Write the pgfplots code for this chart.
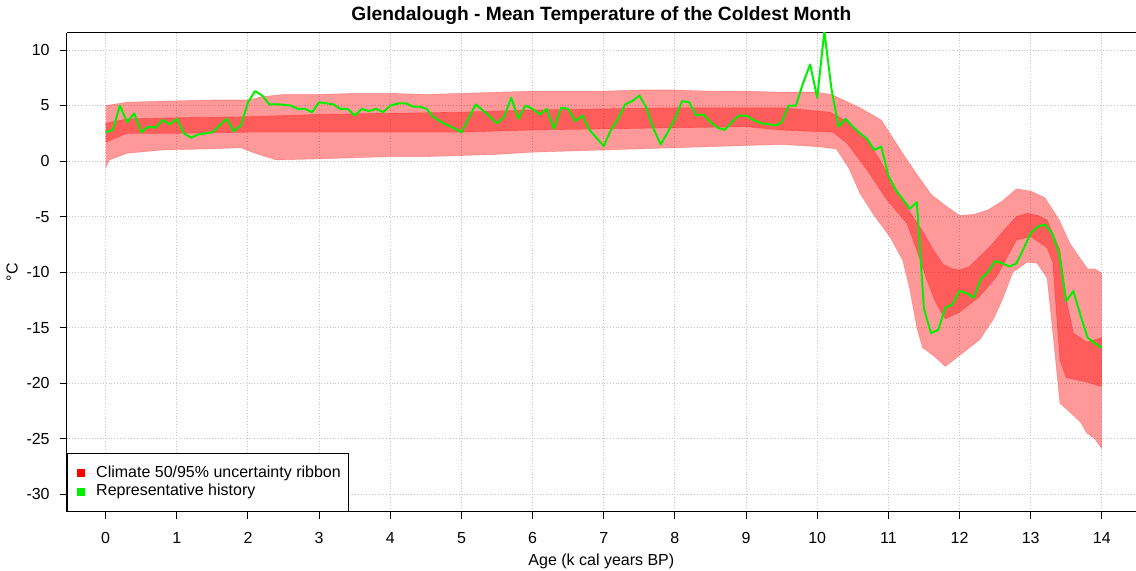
\documentclass[border=0pt]{standalone}
\usepackage{fontspec}
\setmainfont{Liberation Sans}
\usepackage{pgfplots}
\pgfplotsset{compat=1.18}
\usepgfplotslibrary{fillbetween}
\definecolor{histgreen}{RGB}{0,240,0}
\newcommand{\lab}{\fontsize{8}{9.6}\selectfont}
\begin{document}
\begin{tikzpicture}
\begin{axis}[
 name=ax, scale only axis, width=534.65pt, height=239.5pt,
 xmin=-0.548, xmax=14.48, ymin=-31.57, ymax=11.56,
 axis x line=box, axis y line*=left,
 axis line style={black, line width=0.5pt, -},
 xtick={0,1,2,3,4,5,6,7,8,9,10,11,12,13,14},
 xticklabels={0,1,2,3,4,5,6,7,8,9,10,11,12,13,14},
 ytick={-30,-25,-20,-15,-10,-5,0,5,10},
 yticklabels={-30,-25,-20,-15,-10,-5,0,5,10},
 tick align=outside, major tick length=3.5pt,
 tick style={black, line width=0.5pt},
 xtick pos=bottom, ytick pos=left,
 grid=major, grid style={densely dotted, black!22, line width=0.5pt},
 ticklabel style={font=\lab},
 xticklabel shift=3.3pt, yticklabel shift=1.5pt,
 title={Glendalough - Mean Temperature of the Coldest Month},
 title style={font=\fontsize{9.6}{11.5}\selectfont\bfseries, at={(axis description cs:0.5,1)}, anchor=base, yshift=0pt},
 xlabel={Age (k cal years BP)},
 xlabel style={font=\lab, at={(axis description cs:0.5,0)}, anchor=base, yshift=-26.8pt},
 ylabel={°C},
 ylabel style={font=\lab, at={(axis description cs:-0.046,0.5)}, anchor=base},
 legend style={at={(axis description cs:0,0)}, anchor=south west, draw=black, line width=0.5pt, fill=white,
   font=\lab, inner xsep=3pt, inner ysep=5pt, row sep=0pt,
   nodes={inner sep=1pt, text height=5.6pt, text depth=1.7pt}},
 legend cell align=left,
 legend image code/.code={\path (0pt,0pt) -- (10.5pt,0pt); \fill[#1] (2pt,-2pt) rectangle (6pt,2pt);},
]
% outer 95% band
\addplot[name path=ou, draw=red, draw opacity=0.25, line width=0.3pt, forget plot] coordinates {
(0,5.0)(0.3,5.3)(0.8,5.4)(1.5,5.5)(2.0,5.5)(2.2,5.8)(2.5,6.0)(3,6.0)(3.5,6.1)(4,6.1)(4.5,6.0)(5,6.1)(5.5,6.2)(6,6.3)(6.5,6.3)(7,6.3)(7.5,6.4)(8,6.4)(8.5,6.3)(9,6.3)(9.5,6.2)(10.0,6.2)(10.2,6.0)(10.4,5.4)(10.6,4.8)(10.9,3.7)(11.2,0.7)(11.4,-1.2)(11.6,-3.0)(11.8,-4.0)(12.0,-4.9)(12.2,-4.8)(12.4,-4.4)(12.6,-3.6)(12.8,-2.5)(13.0,-2.7)(13.2,-3.3)(13.4,-5.3)(13.55,-7.4)(13.7,-8.8)(13.8,-9.7)(13.9,-9.7)(14,-10.1)
};
\addplot[name path=ol, draw=red, draw opacity=0.25, line width=0.3pt, forget plot] coordinates {
(0,-0.6)(0.05,0.1)(0.3,0.7)(0.8,1.0)(1.5,1.1)(1.9,1.2)(2.1,0.7)(2.4,0.1)(3,0.2)(3.5,0.3)(4,0.4)(4.5,0.4)(5,0.5)(5.5,0.6)(6,0.8)(6.5,0.9)(7,1.0)(7.5,1.1)(8,1.2)(8.5,1.3)(9,1.4)(9.5,1.5)(10.0,1.3)(10.27,1.1)(10.45,-0.7)(10.6,-2.9)(10.8,-4.9)(11.02,-6.8)(11.2,-8.9)(11.3,-11.5)(11.4,-15.0)(11.48,-16.8)(11.65,-17.6)(11.8,-18.5)(12.0,-17.5)(12.28,-16.1)(12.47,-14.3)(12.6,-12.5)(12.75,-10.0)(12.95,-9.1)(13.09,-9.2)(13.23,-10.5)(13.32,-16.0)(13.41,-21.8)(13.55,-22.6)(13.7,-23.5)(13.79,-24.5)(13.9,-25.0)(14,-25.9)
};
% inner 50% band
\addplot[name path=iu, draw=red, draw opacity=0.3, line width=0.3pt, forget plot] coordinates {
(0,3.4)(0.3,3.8)(1,3.9)(2,4.0)(3,4.2)(4,4.3)(5,4.4)(6,4.6)(7,4.7)(8,4.8)(9,4.8)(9.5,4.8)(10.18,4.4)(10.46,3.4)(10.7,1.8)(10.88,0.1)(11.1,-2.4)(11.3,-4.6)(11.48,-6.3)(11.63,-8.0)(11.77,-9.3)(11.9,-9.7)(12.0,-9.8)(12.14,-9.5)(12.43,-7.7)(12.6,-6.4)(12.8,-5.0)(12.95,-4.7)(13.1,-4.9)(13.23,-5.3)(13.41,-8.0)(13.5,-12.5)(13.6,-15.5)(13.79,-16.3)(14,-15.9)
};
\addplot[name path=il, draw=red, draw opacity=0.3, line width=0.3pt, forget plot] coordinates {
(0,1.7)(0.3,2.5)(1,2.5)(2,2.6)(3,2.6)(4,2.6)(5,2.6)(6,2.8)(7,2.9)(8,3.0)(9,3.1)(9.47,2.8)(10.22,2.6)(10.42,1.6)(10.7,-0.8)(10.98,-3.5)(11.26,-5.6)(11.4,-8.0)(11.54,-10.7)(11.67,-12.8)(11.8,-14.2)(12.0,-13.6)(12.28,-12.2)(12.52,-10.4)(12.8,-7.1)(13.0,-6.8)(13.23,-7.8)(13.31,-9.1)(13.41,-17.9)(13.5,-19.5)(13.79,-19.9)(14,-20.3)
};
\addplot[fill=red, fill opacity=0.4, draw=none, forget plot] fill between[of=ou and ol];
\addplot[fill=red, fill opacity=0.4, draw=none, forget plot] fill between[of=iu and il];
% representative history
\addplot[color=histgreen, line width=1pt, line join=round, mark=none, forget plot] coordinates {
(0.0,2.6)(0.1,2.8)(0.2,5.0)(0.3,3.5)(0.4,4.3)(0.5,2.6)(0.6,3.1)(0.7,3.0)(0.8,3.7)(0.9,3.3)(1.0,3.8)(1.1,2.5)(1.2,2.1)(1.3,2.4)(1.5,2.6)(1.6,3.2)(1.7,3.8)(1.8,2.7)(1.9,3.2)(2.0,5.3)(2.1,6.3)(2.2,5.9)(2.3,5.1)(2.45,5.1)(2.6,5.0)(2.7,4.7)(2.8,4.7)(2.9,4.4)(3.0,5.3)(3.2,5.1)(3.3,4.7)(3.4,4.7)(3.5,4.1)(3.6,4.7)(3.7,4.5)(3.8,4.7)(3.9,4.4)(4.0,5.0)(4.12,5.2)(4.22,5.2)(4.32,4.9)(4.41,4.9)(4.51,4.7)(4.6,4.0)(4.72,3.5)(4.88,3.0)(5.0,2.6)(5.2,5.1)(5.35,4.3)(5.5,3.4)(5.6,4.0)(5.7,5.7)(5.8,3.8)(5.9,5.0)(6.0,4.7)(6.1,4.2)(6.2,4.7)(6.3,2.9)(6.4,4.8)(6.5,4.7)(6.6,3.6)(6.7,4.1)(6.8,2.8)(7.0,1.35)(7.1,2.8)(7.2,3.8)(7.3,5.1)(7.4,5.4)(7.5,5.9)(7.6,4.8)(7.7,2.9)(7.8,1.5)(7.9,2.6)(8.0,3.8)(8.1,5.4)(8.2,5.3)(8.3,4.1)(8.4,4.2)(8.5,3.5)(8.6,3.0)(8.7,2.8)(8.8,3.5)(8.9,4.1)(9.0,4.1)(9.1,3.7)(9.22,3.4)(9.33,3.3)(9.42,3.2)(9.5,3.5)(9.6,5.0)(9.7,5.0)(9.8,7.0)(9.9,8.7)(10.0,5.7)(10.1,11.7)(10.2,6.5)(10.3,3.1)(10.4,3.8)(10.5,3.1)(10.6,2.5)(10.7,2.0)(10.8,1.0)(10.9,1.3)(11.0,-1.3)(11.1,-2.6)(11.2,-3.4)(11.3,-4.3)(11.4,-3.7)(11.5,-13.3)(11.6,-15.5)(11.7,-15.2)(11.8,-13.2)(11.9,-12.9)(12.0,-11.7)(12.1,-11.9)(12.2,-12.3)(12.3,-10.6)(12.4,-10.0)(12.5,-9.0)(12.6,-9.2)(12.7,-9.5)(12.8,-9.2)(12.9,-7.9)(13.0,-6.5)(13.1,-5.9)(13.2,-5.7)(13.3,-6.5)(13.4,-8.3)(13.5,-12.6)(13.6,-11.7)(13.7,-13.9)(13.8,-15.9)(13.9,-16.4)(14.0,-16.8)
};
\addlegendimage{fill=red, draw=none}
\addlegendentry{Climate 50/95\% uncertainty ribbon}
\addlegendimage{fill=histgreen, draw=none}
\addlegendentry{Representative history}
\end{axis}
\pgfresetboundingbox
\path[use as bounding box] ([xshift=-33.35pt,yshift=-29.65pt]ax.south west) rectangle ([yshift=16.35pt]ax.north east);
\end{tikzpicture}
\end{document}
